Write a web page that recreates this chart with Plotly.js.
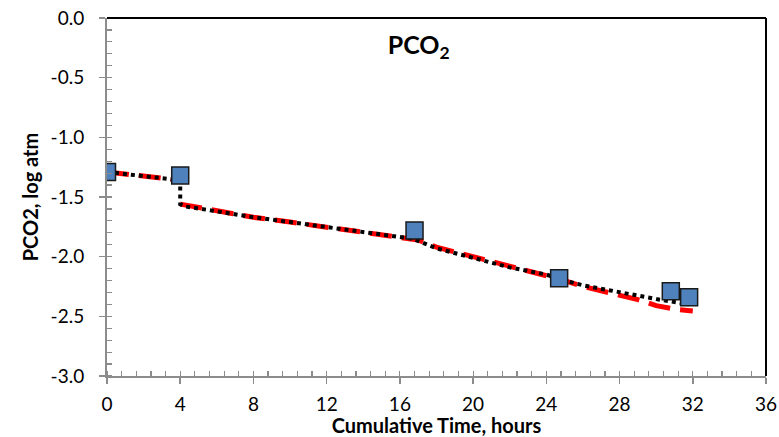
<!DOCTYPE html>
<html>
<head>
<meta charset="utf-8">
<script src="https://cdn.plot.ly/plotly-3.0.1.min.js"></script>
<style>html,body{margin:0;padding:0;background:#fff;}#chart{width:779px;height:437px;}</style>
</head>
<body>
<div id="chart"></div>
<script>
// Measured PCO2 (squares)
var obsTime = [0, 4, 16.8, 24.7, 30.8, 31.8];
var obsPCO2 = [-1.29, -1.32, -1.78, -2.18, -2.29, -2.34];

// Model 1 (black dotted)
var blackTime = [0, 4, 4, 4.3, 6, 8, 10, 12, 14, 16, 16.7, 18, 20, 22, 24, 25, 26, 28, 30, 31, 31.8];
var blackPCO2 = [-1.29, -1.36, -1.56, -1.58, -1.62, -1.67, -1.71, -1.75, -1.79, -1.83, -1.85, -1.93, -2.01, -2.09, -2.15, -2.20, -2.24, -2.30, -2.355, -2.38, -2.40];

// Model 2 (red dashed)
var redTime = [0, 4, 4, 4, 6, 8, 10, 12, 14, 16, 17, 18, 20, 22, 24, 25, 26, 28, 29, 30, 31, 32];
var redPCO2 = [-1.29, -1.36, null, -1.56, -1.62, -1.67, -1.71, -1.75, -1.79, -1.83, -1.86, -1.92, -2.00, -2.08, -2.15, -2.20, -2.25, -2.32, -2.36, -2.41, -2.44, -2.455];

var xTicks = [0, 4, 8, 12, 16, 20, 24, 28, 32, 36];
var yTicks = [0, -0.5, -1, -1.5, -2, -2.5, -3];
var yTickText = ['0.0', '-0.5', '-1.0', '-1.5', '-2.0', '-2.5', '-3.0'];

var FONT = 'Lato, "Open Sans", sans-serif';

var traces = [
  {x: redTime, y: redPCO2, mode: 'lines', connectgaps: false,
   line: {color: '#ff0000', width: 5, dash: '22px,10px'}, hoverinfo: 'skip'},
  {x: blackTime, y: blackPCO2, mode: 'lines',
   line: {color: '#000000', width: 4, dash: 'dot'}, hoverinfo: 'skip'},
  {x: obsTime, y: obsPCO2, mode: 'markers',
   marker: {symbol: 'square', size: 17, color: '#4f81bd', line: {color: '#1a1a1a', width: 1.5}}}
];

var layout = {
  width: 779, height: 437,
  margin: {l: 107, r: 13, t: 18, b: 61},
  paper_bgcolor: '#ffffff', plot_bgcolor: '#ffffff',
  showlegend: false,
  font: {family: FONT, color: '#000000', size: 18},
  title: {text: '<b>PCO<sub>2</sub></b>', font: {family: FONT, size: 25, color: '#000'},
          xref: 'paper', yref: 'paper', x: 0.473, y: 0.925, xanchor: 'center', yanchor: 'middle'},
  xaxis: {
    range: [0, 36], tickvals: xTicks, ticktext: xTicks.map(String),
    showgrid: false, zeroline: false,
    showline: true, linecolor: '#8c8c8c', linewidth: 2,
    ticks: 'outside', ticklen: 6, tickwidth: 1.5, tickcolor: '#8c8c8c',
    ticklabelstandoff: 4,
    tickfont: {family: FONT, size: 19, color: '#000'},
    minor: {dtick: 0.8, tick0: 0, ticks: 'inside', ticklen: 5, tickwidth: 1.2, tickcolor: '#8c8c8c', showgrid: false},
    title: {text: '<b>Cumulative Time, hours</b>', font: {family: FONT, size: 20, color: '#000'}, standoff: 0},
    fixedrange: true
  },
  yaxis: {
    range: [-3, 0], tickvals: yTicks, ticktext: yTickText,
    showgrid: false, zeroline: false,
    showline: true, linecolor: '#8c8c8c', linewidth: 2,
    ticks: 'outside', ticklen: 6, tickwidth: 1.5, tickcolor: '#8c8c8c',
    ticklabelstandoff: 11,
    tickfont: {family: FONT, size: 19, color: '#000'},
    minor: {dtick: 0.1, tick0: 0, ticks: 'inside', ticklen: 5, tickwidth: 1.2, tickcolor: '#8c8c8c', showgrid: false},
    title: {text: '<b>PCO2, log atm</b>', font: {family: FONT, size: 20, color: '#000'}, standoff: 7},
    fixedrange: true
  },
  xaxis2: {
    overlaying: 'x', matches: 'x', range: [0, 36], tickvals: xTicks, showticklabels: false,
    ticks: 'inside', ticklen: 6, tickwidth: 1.5, tickcolor: '#8c8c8c',
    showline: false, showgrid: false, zeroline: false, fixedrange: true
  },
  yaxis2: {
    overlaying: 'y', matches: 'y', range: [-3, 0], tickvals: yTicks, showticklabels: false,
    ticks: 'inside', ticklen: 6, tickwidth: 1.5, tickcolor: '#8c8c8c',
    showline: false, showgrid: false, zeroline: false, fixedrange: true
  },
  shapes: [
    {type: 'line', xref: 'paper', yref: 'paper', x0: 0, x1: 1, y0: 1, y1: 1, line: {color: '#000', width: 2}},
    {type: 'line', xref: 'paper', yref: 'paper', x0: 1, x1: 1, y0: 0, y1: 1, line: {color: '#000', width: 2}}
  ]
};

Plotly.newPlot('chart', traces, layout, {displayModeBar: false, staticPlot: true});
</script>
</body>
</html>
